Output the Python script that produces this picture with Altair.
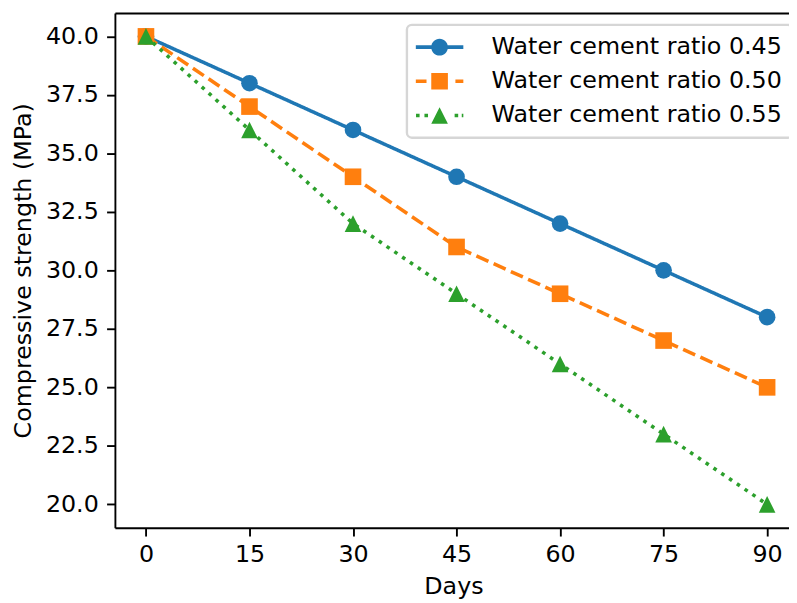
import altair as alt
import pandas as pd

# ---- data ----
days = [0, 15, 30, 45, 60, 75, 90]
series_names = ["Water cement ratio 0.45", "Water cement ratio 0.50", "Water cement ratio 0.55"]
strength_045 = [40, 38, 36, 34, 32, 30, 28]
strength_050 = [40, 37, 34, 31, 29, 27, 25]
strength_055 = [40, 36, 32, 29, 26, 23, 20]
colors = ["#1f77b4", "#ff7f0e", "#2ca02c"]
x_ticks = [0, 15, 30, 45, 60, 75, 90]
y_ticks = [20.0, 22.5, 25.0, 27.5, 30.0, 32.5, 35.0, 37.5, 40.0]

rows = []
for name, vals in zip(series_names, [strength_045, strength_050, strength_055]):
    for d, v in zip(days, vals):
        rows.append({"day": d, "strength": v, "series": name})
df = pd.DataFrame(rows)

FONT = "DejaVu Sans"
FS = 24
LW = 3.6
AXW = 1.9

# plot area runs a little past the right edge of the picture, as in the reference
x_scale = alt.Scale(domain=[-4.5, 93.6], nice=False, zero=False)
y_scale = alt.Scale(domain=[19, 41], nice=False, zero=False)
color_scale = alt.Scale(domain=series_names, range=colors)

x_axis = alt.Axis(orient="bottom", values=x_ticks, format="d", title="Days", grid=False,
                  domainColor="black", domainWidth=AXW, tickColor="black", tickWidth=AXW,
                  tickSize=8.4, labelPadding=7,
                  titleBaseline="alphabetic", titleY=66.5,
                  labelFont=FONT, labelFontSize=FS, labelColor="black",
                  titleFont=FONT, titleFontSize=FS, titleFontWeight="normal", titleColor="black",
                  labelFlush=False, labelOverlap=False)
y_axis = alt.Axis(orient="left", values=y_ticks, format=".1f", title="Compressive strength (MPa)", grid=False,
                  domainColor="black", domainWidth=AXW, tickColor="black", tickWidth=AXW,
                  tickSize=8.4, labelPadding=8.4, titlePadding=10,
                  labelFont=FONT, labelFontSize=FS, labelColor="black",
                  titleFont=FONT, titleFontSize=FS, titleFontWeight="normal", titleColor="black",
                  labelFlush=False, labelOverlap=False)
top_axis = alt.Axis(orient="top", labels=False, ticks=False, title=None, grid=False,
                    domainColor="black", domainWidth=AXW)

dashes = [[1, 0], [13.3, 5.8], [3.6, 5.9]]
shapes = ["circle", "square", "M0,-1L1,1L-1,1Z"]

# legend symbols: line segments + marker (filled paths, unit = sqrt(symbolSize)/2 = 8px)
h = 0.225
def seg(a, b):
    return f"M{a},{-h}L{b},{-h}L{b},{h}L{a},{h}Z"
R = 1.05
circle_p = f"M{R},0A{R},{R},0,1,1,{-R},0A{R},{R},0,1,1,{R},0Z"
square_p = f"M{-R},{-R}L{R},{-R}L{R},{R}L{-R},{R}Z"
tri_p = f"M0,{-R}L{R},{R}L{-R},{R}Z"
legend_paths = [
    seg(-3.0, 3.0) + circle_p,
    seg(-3.0, -1.65) + square_p + seg(2.0, 3.0),
    seg(-2.975, -2.525) + seg(-1.91, -1.46) + tri_p + seg(1.9, 2.35) + seg(2.8, 3.0),
]

layers = []
for i, name in enumerate(series_names):
    src = alt.Chart(df).transform_filter(alt.datum.series == name)
    line = src.mark_line(color=colors[i], strokeWidth=LW, strokeDash=dashes[i], strokeCap="butt").encode(
        x=alt.X("day:Q", scale=x_scale, axis=x_axis if i == 0 else None),
        y=alt.Y("strength:Q", scale=y_scale, axis=y_axis),
    )
    pts = src.mark_point(color=colors[i], filled=True, opacity=1, size=282, shape=shapes[i]).encode(
        x=alt.X("day:Q", scale=x_scale, axis=None),
        y=alt.Y("strength:Q", scale=y_scale, axis=y_axis),
    )
    layers += [line, pts]

leg = alt.Legend(orient="none", legendX=295, legendY=12, title=None,
                 labelFont=FONT, labelFontSize=FS, labelColor="black", labelLimit=0,
                 symbolSize=256, symbolOpacity=1, symbolStrokeWidth=0,
                 padding=10.5, rowPadding=10.5, symbolOffset=10.5, labelOffset=40.5,
                 strokeColor="#d6d6d6", fillColor="rgba(255,255,255,0.8)", cornerRadius=5)

legend_layer = alt.Chart(df).mark_point(filled=True, opacity=0).encode(
    x=alt.X("day:Q", scale=x_scale, axis=top_axis),
    y=alt.Y("strength:Q", scale=y_scale, axis=y_axis),
    color=alt.Color("series:N", scale=color_scale, legend=leg),
    shape=alt.Shape("series:N", scale=alt.Scale(domain=series_names, range=legend_paths), legend=leg),
)
layers.append(legend_layer)

chart = alt.layer(*layers).resolve_axis(x="independent").properties(
    width=684, height=520,
    autosize=alt.AutoSizeParams(type="none"),
    padding={"left": 108, "top": 2, "right": -3, "bottom": 73},
    background="white",
).configure_view(strokeWidth=0).configure_legend(strokeWidth=2.4)

chart.save("out.html", embed_options={"renderer": "svg", "actions": False})
